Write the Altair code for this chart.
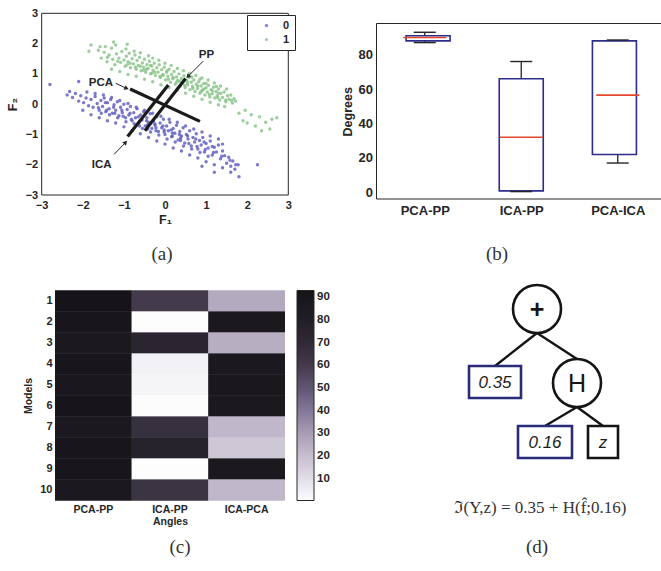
import json
import math

import altair as alt
import numpy as np
import pandas as pd

W, H = 661, 571

# ---------------- (a) two-class feature scatter ----------------
class0_pts = [
    (-2.32, 0.42), (-2.25, 0.22), (-2.18, 0.35), (-2.10, 0.10), (-2.05, 0.28), (-1.98, 0.05), (-1.92, 0.20),
    (-1.86, -0.05), (-1.80, 0.15), (-1.75, -0.10), (-1.70, 0.25), (-1.65, 0.02), (-1.60, -0.20), (-1.56, 0.12),
    (-1.52, -0.08), (-1.48, 0.20), (-1.44, -0.25), (-1.40, 0.05), (-1.36, -0.15), (-1.32, 0.15), (-1.28, -0.30),
    (-1.24, -0.02), (-1.20, -0.20), (-1.16, 0.08), (-1.12, -0.38), (-1.08, -0.10), (-1.04, -0.28), (-1.00, 0.00),
    (-0.96, -0.45), (-0.92, -0.18), (-0.88, -0.36), (-0.84, -0.08), (-0.80, -0.55), (-0.76, -0.28), (-0.72, -0.45),
    (-0.68, -0.15), (-0.64, -0.62), (-0.60, -0.36), (-0.56, -0.52), (-0.52, -0.25), (-0.48, -0.72), (-0.44, -0.45),
    (-0.40, -0.60), (-0.36, -0.32), (-0.32, -0.80), (-0.28, -0.55), (-0.24, -0.70), (-0.20, -0.42), (-0.16, -0.90),
    (-0.12, -0.62), (-0.08, -0.78), (-0.04, -0.50), (0.00, -1.00), (0.04, -0.72), (0.08, -0.88), (0.12, -0.60),
    (0.16, -1.08), (0.20, -0.80), (0.24, -0.96), (0.28, -0.70), (0.32, -1.18), (0.36, -0.90), (0.40, -1.05),
    (0.44, -0.78), (0.48, -1.28), (0.52, -1.00), (0.56, -1.15), (0.60, -0.88), (0.64, -1.38), (0.68, -1.10),
    (0.72, -1.25), (0.76, -0.98), (0.80, -1.48), (0.84, -1.20), (0.88, -1.35), (0.92, -1.10), (0.96, -1.58),
    (1.00, -1.30), (1.05, -1.45), (1.10, -1.22), (1.15, -1.68), (1.20, -1.42), (1.25, -1.58), (1.30, -1.35),
    (1.35, -1.80), (1.40, -1.55), (1.45, -1.70), (1.50, -1.95), (1.55, -1.75), (1.60, -2.05), (1.65, -1.88),
    (1.70, -2.15), (1.78, -2.00),
    (-2.00, -0.20), (-1.80, -0.35), (-1.60, -0.45), (-1.40, -0.55), (-1.20, -0.62), (-1.00, -0.75), (-0.80, -0.88),
    (-0.60, -0.98), (-0.40, -1.10), (-0.20, -1.22), (0.00, -1.32), (0.20, -1.45), (0.40, -1.55), (0.60, -1.68),
    (0.80, -1.78), (1.00, -1.90), (1.20, -2.00), (1.40, -2.10),
    (-1.90, 0.40), (-1.70, 0.35), (-1.50, 0.30), (-1.30, 0.22), (-1.10, 0.12), (-0.90, 0.02), (-0.70, -0.10),
    (-0.50, -0.20), (-0.30, -0.30), (-0.10, -0.40), (0.10, -0.50), (0.30, -0.60), (0.50, -0.72), (0.70, -0.82),
    (0.90, -0.92), (1.10, -1.05), (1.30, -1.15),
    (-1.55, -0.30), (-1.35, -0.35), (-1.15, -0.45), (-0.95, -0.58), (-0.75, -0.65), (-0.55, -0.80), (-0.35, -0.92),
    (-0.15, -1.02), (0.05, -1.15), (0.25, -1.25), (0.45, -1.38), (0.65, -1.48), (0.85, -1.60), (1.05, -1.72),
    (-0.62, -0.72), (-0.42, -0.82), (-0.22, -0.88), (-0.02, -0.85), (0.18, -0.95), (0.38, -1.12),
    (-1.45, 0.05), (-1.25, -0.10), (-1.05, -0.20), (-0.85, -0.30), (-0.65, -0.42), (-0.45, -0.55), (-0.25, -0.65),
    (-0.05, -0.72), (0.15, -0.85), (0.35, -1.00), (0.55, -1.05), (0.75, -1.15), (0.95, -1.25), (1.15, -1.40),
    (-1.62, -0.12), (-1.42, -0.20), (-1.22, -0.30), (-1.02, -0.40), (-0.82, -0.50), (-0.62, -0.58), (-0.42, -0.68),
    (-0.22, -0.78), (-0.02, -0.92), (0.18, -1.05), (0.38, -1.20), (0.58, -1.30), (0.78, -1.40), (0.98, -1.50),
    (1.18, -1.60), (1.38, -1.72), (1.58, -1.85),
    (-2.80, 0.65), (-2.10, 0.75), (-2.38, 0.30), (1.40, -1.32), (1.72, -2.00), (1.80, -2.40), (2.25, -2.00),
    (1.60, -2.25), (1.20, -2.25), (0.90, -2.05),
]
class1_pts = [
    (-1.62, 1.78), (-1.55, 1.52), (-1.48, 1.71), (-1.41, 1.40), (-1.36, 1.62), (-1.30, 1.85), (-1.27, 1.48),
    (-1.22, 1.30), (-1.18, 1.66), (-1.12, 1.52), (-1.08, 1.38), (-1.05, 1.74), (-1.00, 1.46), (-0.97, 1.25),
    (-0.94, 1.58), (-0.90, 1.40), (-0.87, 1.68), (-0.84, 1.20), (-0.80, 1.50), (-0.77, 1.33), (-0.73, 1.62),
    (-0.70, 1.15), (-0.68, 1.44), (-0.65, 1.28), (-0.62, 1.55), (-0.58, 1.10), (-0.55, 1.36), (-0.52, 1.22),
    (-0.50, 1.48), (-0.47, 1.05), (-0.44, 1.30), (-0.41, 1.18), (-0.38, 1.42), (-0.35, 1.00), (-0.32, 1.26),
    (-0.29, 1.12), (-0.26, 1.35), (-0.23, 0.95), (-0.20, 1.20), (-0.17, 1.05), (-0.14, 1.30), (-0.11, 0.88),
    (-0.08, 1.14), (-0.05, 0.98), (-0.02, 1.22), (0.01, 0.80), (0.04, 1.05), (0.07, 0.92), (0.10, 1.15),
    (0.13, 0.72), (0.16, 0.98), (0.19, 0.84), (0.22, 1.08), (0.25, 0.66), (0.28, 0.90), (0.31, 0.78),
    (0.34, 1.00), (0.37, 0.60), (0.40, 0.85), (0.43, 0.70), (0.46, 0.94), (0.49, 0.55), (0.52, 0.78),
    (0.55, 0.64), (0.58, 0.88), (0.61, 0.48), (0.64, 0.72), (0.67, 0.58), (0.70, 0.80), (0.73, 0.42),
    (0.76, 0.66), (0.79, 0.52), (0.82, 0.74), (0.85, 0.36), (0.88, 0.60), (0.91, 0.46), (0.94, 0.68),
    (0.97, 0.30), (1.00, 0.54), (1.03, 0.40), (1.06, 0.62), (1.09, 0.24), (1.12, 0.48), (1.15, 0.34),
    (1.18, 0.56), (1.21, 0.20), (1.24, 0.42), (1.27, 0.28), (1.30, 0.50), (1.33, 0.14), (1.36, 0.36),
    (1.40, 0.22), (1.44, 0.40), (1.48, 0.08), (1.52, 0.28), (1.56, 0.16), (1.60, 0.30), (1.64, 0.04),
    (1.68, 0.18), (1.72, 0.10),
    (-1.45, 1.90), (-1.20, 1.95), (-0.95, 1.82), (-0.75, 1.75), (-0.60, 1.70), (-0.40, 1.60), (-0.30, 1.52),
    (-0.15, 1.45), (0.00, 1.35), (0.15, 1.28), (0.30, 1.18), (0.45, 1.10), (0.60, 1.02), (0.75, 0.95),
    (0.90, 0.86), (1.05, 0.80), (1.20, 0.70), (1.35, 0.60), (1.50, 0.50),
    (-1.30, 1.15), (-1.10, 1.08), (-0.90, 0.98), (-0.70, 0.92), (-0.50, 0.82), (-0.30, 0.74), (-0.10, 0.64),
    (0.10, 0.55), (0.30, 0.46), (0.50, 0.36), (0.70, 0.26), (0.90, 0.16), (1.10, 0.06), (1.30, -0.02),
    (1.45, -0.08),
    (-0.85, 1.35), (-0.60, 1.25), (-0.45, 1.15), (-0.25, 1.05), (-0.05, 0.95), (0.20, 0.88), (0.35, 0.76),
    (0.55, 0.72), (0.80, 0.60), (0.95, 0.50), (1.15, 0.44), (1.30, 0.36), (0.05, 1.10), (-0.35, 1.28),
    (0.65, 0.90), (0.85, 0.82), (1.00, 0.68), (1.25, 0.58),
    (-1.40, 1.55), (-1.15, 1.42), (-0.92, 1.30), (-0.72, 1.22), (-0.52, 1.12), (-0.32, 1.02), (-0.12, 0.92),
    (0.08, 0.82), (0.28, 0.72), (0.48, 0.62), (0.68, 0.52), (0.88, 0.42), (1.08, 0.32), (1.28, 0.22),
    (1.48, 0.14), (1.62, 0.12),
    (-1.80, 1.95), (-1.85, 1.75), (-1.58, 1.90), (-1.25, 2.05), (-0.92, 1.98), (1.80, -0.30), (1.90, -0.55),
    (2.00, -0.62), (2.10, -0.35), (2.20, -0.72), (2.30, -0.42), (2.45, -0.60), (2.55, -0.82), (2.72, -0.45),
    (2.35, -0.88), (1.95, -0.20), (2.60, -0.50),
]

# projection directions drawn through the data
dir_names = ["PCA", "ICA", "PP"]
dir_start_x = [-0.85, -0.91, -0.49]
dir_start_y = [0.50, -1.07, -0.88]
dir_end_x = [0.85, 0.08, 0.50]
dir_end_y = [-0.57, 0.63, 0.85]

# pointer labels
tag_names = ["PCA", "PP", "ICA"]
tag_x = [-1.56, 1.01, -1.54]
tag_y = [0.70, 1.62, -2.02]
arrow_from_x = [-1.20, 0.93, -1.24]
arrow_from_y = [0.69, 1.42, -1.66]
arrow_to_x = [-0.95, 0.57, -0.97]
arrow_to_y = [0.53, 0.93, -1.28]

# ---------------- (b)/(c) angles between directions ----------------
pairs = ["PCA-PP", "ICA-PP", "ICA-PCA"]
box_names = ["PCA-PP", "ICA-PP", "PCA-ICA"]
models = list(range(1, 11))
angle_pca_pp = [93, 90, 88, 91, 89, 92, 87, 90, 91, 88]
angle_ica_pp = [60, 0.4, 74, 4, 3, 0.8, 66, 76, 0.5, 64]
angle_ica_pca = [26, 88, 25, 87, 88.5, 88, 22, 17, 88, 22]

# ---------------- (d) expression tree ----------------
op_names = ["+", "H"]
op_x = [87, 127]
op_y = [19, 93]
leaf_names = ["0.35", "0.16", "z"]
leaf_kind = ["const", "const", "var"]
leaf_x0 = [19, 68, 138]
leaf_x1 = [71, 122, 168]
leaf_y0 = [76, 136, 136]
leaf_y1 = [108, 168, 168]
edge_parent = ["+", "+", "H", "H"]
edge_child = ["0.35", "H", "0.16", "z"]

# ---------------- panel placement (pixels) ----------------
A_X, A_Y = [41.7, 288.3], [195.0, 13.3]
B_X, B_Y = [376.5, 666.0], [199.0, 23.5]
C_X, C_Y = [55.0, 285.0], [290.5, 500.5]
D_X, D_Y = [450.0, 650.0], [290.0, 470.0]

SANS = "Liberation Sans"
SERIF = "Liberation Serif"
INK = "#262626"
BLUE = "#5959bf"
GREEN = "#84c284"


def lin(domain, rng):
    return alt.Scale(domain=domain, range=rng, nice=False, zero=False)


def axis(orient, offset, **kw):
    base = dict(orient=orient, offset=offset, grid=False, ticks=False, domain=False,
                labelFont=SANS, labelColor=INK, labelFontWeight="bold",
                titleFont=SANS, titleColor=INK, titleFontWeight="bold", labelFlush=False)
    base.update(kw)
    return alt.Axis(**base)


# ===== panel (a) =====
sa_x = lin([-3, 3], A_X)
sa_y = lin([-3, 3], A_Y)

frame_a = pd.DataFrame({"x0": [-3], "x1": [3], "y0": [-3], "y1": [3]})
scatter_df = pd.DataFrame(
    [{"f1": x, "f2": y, "cls": "0"} for x, y in class0_pts]
    + [{"f1": x, "f2": y, "cls": "1"} for x, y in class1_pts]
)
dir_df = pd.DataFrame({"name": dir_names, "x": dir_start_x, "y": dir_start_y,
                       "x2": dir_end_x, "y2": dir_end_y})
kx = (A_X[1] - A_X[0]) / 6.0
ky = (A_Y[0] - A_Y[1]) / 6.0
arrow_df = pd.DataFrame({"name": tag_names, "tx": tag_x, "ty": tag_y,
                         "x": arrow_from_x, "y": arrow_from_y,
                         "x2": arrow_to_x, "y2": arrow_to_y})
arrow_df["ang"] = [
    math.degrees(math.atan2((x2 - x1) * kx, (y2 - y1) * ky)) % 360
    for x1, y1, x2, y2 in zip(arrow_from_x, arrow_from_y, arrow_to_x, arrow_to_y)
]

a_frame = alt.Chart(frame_a).mark_rect(fillOpacity=0, stroke=INK, strokeWidth=1).encode(
    x=alt.X("x0:Q", scale=sa_x,
            axis=axis("bottom", A_Y[0] - H, values=[-3, -2, -1, 0, 1, 2, 3], title="F₁",
                      labelFontSize=11, labelPadding=4, titleFontSize=12.5, titlePadding=3)),
    x2="x1:Q",
    y=alt.Y("y0:Q", scale=sa_y,
            axis=axis("left", -A_X[0], values=[-3, -2, -1, 0, 1, 2, 3], title="F₂",
                      labelFontSize=11, labelPadding=4, titleFontSize=12.5, titlePadding=6)),
    y2="y1:Q",
)
a_points = alt.Chart(scatter_df).mark_circle(size=12, opacity=0.8).encode(
    x=alt.X("f1:Q", scale=sa_x, axis=None),
    y=alt.Y("f2:Q", scale=sa_y, axis=None),
    color=alt.Color("cls:N", scale=alt.Scale(domain=["0", "1"], range=[BLUE, GREEN]),
                    legend=alt.Legend(orient="none", legendX=247, legendY=15, title=None,
                                      strokeColor=INK, fillColor="white", padding=5,
                                      symbolType="circle", symbolSize=10, symbolOffset=9,
                                      labelOffset=11, labelFont=SANS, labelFontSize=11,
                                      labelFontWeight="bold", labelColor=INK, rowPadding=2,
                                      cornerRadius=0)),
)
a_dirs = alt.Chart(dir_df).mark_rule(strokeWidth=3.2, color="#1b1b1b").encode(
    x=alt.X("x:Q", scale=sa_x, axis=None), y=alt.Y("y:Q", scale=sa_y, axis=None),
    x2="x2:Q", y2="y2:Q",
)
a_arrows = alt.Chart(arrow_df).mark_rule(strokeWidth=1, color=INK).encode(
    x=alt.X("x:Q", scale=sa_x, axis=None), y=alt.Y("y:Q", scale=sa_y, axis=None),
    x2="x2:Q", y2="y2:Q",
)
a_heads = alt.Chart(arrow_df).mark_point(shape="triangle", filled=True, size=26, opacity=1,
                                         color=INK).encode(
    x=alt.X("x2:Q", scale=sa_x, axis=None), y=alt.Y("y2:Q", scale=sa_y, axis=None),
    angle=alt.Angle("ang:Q", scale=None),
)
a_tags = alt.Chart(arrow_df).mark_text(font=SANS, fontSize=11.5, fontWeight="bold",
                                       color=INK).encode(
    x=alt.X("tx:Q", scale=sa_x, axis=None), y=alt.Y("ty:Q", scale=sa_y, axis=None),
    text="name:N",
)
layers_a = [a_frame, a_points, a_dirs, a_arrows, a_heads, a_tags]


# ===== panel (b) =====
def box_stats(values):
    v = np.asarray(values, dtype=float)
    q1, med, q3 = np.percentile(v, [25, 50, 75], method="hazen")
    iqr = q3 - q1
    lo = v[v >= q1 - 1.5 * iqr].min()
    hi = v[v <= q3 + 1.5 * iqr].max()
    return q1, med, q3, lo, hi


box_rows = []
for i, vals in enumerate([angle_pca_pp, angle_ica_pp, angle_ica_pca]):
    q1, med, q3, lo, hi = box_stats(vals)
    box_rows.append({"pos": i + 1, "q1": q1, "med": med, "q3": q3, "lo": lo, "hi": hi})
box_df = pd.DataFrame(box_rows)
cap_df = pd.concat([box_df[["pos", "lo"]].rename(columns={"lo": "v"}),
                    box_df[["pos", "hi"]].rename(columns={"hi": "v"})])

sb_x = lin([0.5, 3.5], B_X)
sb_y = lin([-3.9, 98.1], B_Y)
frame_b = pd.DataFrame({"x0": [0.5], "x1": [3.5], "y0": [-3.9], "y1": [98.1]})
label_expr = json.dumps(box_names) + "[datum.value - 1]"

b_frame = alt.Chart(frame_b).mark_rect(fillOpacity=0, stroke=INK, strokeWidth=1).encode(
    x=alt.X("x0:Q", scale=sb_x,
            axis=axis("bottom", B_Y[0] - H, values=[1, 2, 3], labelExpr=label_expr, title=None,
                      labelFontSize=13, labelPadding=5)),
    x2="x1:Q",
    y=alt.Y("y0:Q", scale=sb_y,
            axis=axis("left", -B_X[0], values=[0, 20, 40, 60, 80], title="Degrees",
                      labelFontSize=13, labelPadding=4, titleFontSize=12.5, titlePadding=4)),
    y2="y1:Q",
)
b_whisk = alt.Chart(box_df).mark_rule(strokeWidth=1.3, color=INK).encode(
    x=alt.X("pos:Q", scale=sb_x, axis=None), y=alt.Y("lo:Q", scale=sb_y, axis=None), y2="hi:Q",
)
b_box = alt.Chart(box_df).mark_bar(size=44, orient="vertical", fill="white", stroke="#2d2d8c",
                                   strokeWidth=1.6).encode(
    x=alt.X("pos:Q", scale=sb_x, axis=None), y=alt.Y("q1:Q", scale=sb_y, axis=None), y2="q3:Q",
)
b_med = alt.Chart(box_df).mark_tick(orient="horizontal", size=43, thickness=1.6,
                                    color="#e4472c", opacity=1).encode(
    x=alt.X("pos:Q", scale=sb_x, axis=None), y=alt.Y("med:Q", scale=sb_y, axis=None),
)
b_caps = alt.Chart(cap_df).mark_tick(orient="horizontal", size=22, thickness=1.4,
                                     color=INK, opacity=1).encode(
    x=alt.X("pos:Q", scale=sb_x, axis=None), y=alt.Y("v:Q", scale=sb_y, axis=None),
)
layers_b = [b_frame, b_whisk, b_box, b_med, b_caps]

# ===== panel (c) =====
heat_df = pd.DataFrame(
    [{"pair": p, "model": m, "angle": a}
     for p, vals in zip(pairs, [angle_pca_pp, angle_ica_pp, angle_ica_pca])
     for m, a in zip(models, vals)]
)
all_angles = angle_pca_pp + angle_ica_pp + angle_ica_pca
amin, amax = min(all_angles), max(all_angles)
gray_domain = [amin, 10, 20, 30, 40, 50, 60, 70, 80, amax]
gray_range = ["#fdfdfe", "#e2dee8", "#c6bfcf", "#a89db5", "#83789a", "#5f5672",
              "#433a4c", "#302a36", "#221e27", "#161418"]
colorbar = alt.Legend(orient="none", legendX=297, legendY=C_Y[0], title=None,
                      direction="vertical", gradientLength=C_Y[1] - C_Y[0],
                      gradientThickness=17, gradientStrokeColor=INK,
                      gradientStrokeWidth=1, values=[10, 20, 30, 40, 50, 60, 70, 80, 90],
                      labelFont=SANS, labelFontSize=11.5, labelFontWeight="bold",
                      labelColor=INK, labelOffset=3, labelOverlap=False, padding=0)


def heat_layer(with_axes):
    x_axis = axis("bottom", C_Y[1] - H, title="Angles", labelAngle=0, labelFontSize=10.5,
                  labelPadding=4, titleFontSize=10.5, titlePadding=1) if with_axes else None
    y_axis = axis("left", -C_X[0], title="Models", labelAngle=0, labelFontSize=11,
                  labelPadding=3, titleFontSize=10.5, titlePadding=6) if with_axes else None
    return alt.Chart(heat_df).mark_rect().encode(
        x=alt.X("pair:N", sort=pairs,
                scale=alt.Scale(domain=pairs, range=C_X, paddingInner=0, paddingOuter=0),
                axis=x_axis),
        y=alt.Y("model:O", sort=models,
                scale=alt.Scale(domain=models, range=C_Y, paddingInner=0, paddingOuter=0),
                axis=y_axis),
        color=alt.Color("angle:Q", scale=alt.Scale(domain=gray_domain, range=gray_range),
                        legend=colorbar if with_axes else None),
    )


# the cells are painted twice so that neighbouring rows meet without a hairline seam
layers_c = [heat_layer(True), heat_layer(False)]

# ===== panel (d) =====
R = 24
sd_x = lin([0, 200], D_X)
sd_y = lin([0, 180], D_Y)
ops_df = pd.DataFrame({"name": op_names, "x": op_x, "y": op_y})
leaf_df = pd.DataFrame({"name": leaf_names, "kind": leaf_kind, "x0": leaf_x0, "x1": leaf_x1,
                        "y0": leaf_y0, "y1": leaf_y1})
leaf_df["xc"] = (leaf_df["x0"] + leaf_df["x1"]) / 2
leaf_df["yc"] = (leaf_df["y0"] + leaf_df["y1"]) / 2

anchor_bottom = {n: (x, y + R) for n, x, y in zip(op_names, op_x, op_y)}
anchor_top = {n: (x, y - R) for n, x, y in zip(op_names, op_x, op_y)}
anchor_top.update({n: ((a + b) / 2, t) for n, a, b, t in zip(leaf_names, leaf_x0, leaf_x1, leaf_y0)})
edge_df = pd.DataFrame({
    "x": [anchor_bottom[p][0] for p in edge_parent],
    "y": [anchor_bottom[p][1] for p in edge_parent],
    "x2": [anchor_top[c][0] for c in edge_child],
    "y2": [anchor_top[c][1] for c in edge_child],
})

d_edges = alt.Chart(edge_df).mark_rule(strokeWidth=2.4, color="#151515").encode(
    x=alt.X("x:Q", scale=sd_x, axis=None), y=alt.Y("y:Q", scale=sd_y, axis=None),
    x2="x2:Q", y2="y2:Q",
)
d_ops = alt.Chart(ops_df).mark_point(shape="circle", filled=True, fill="white", stroke="#151515",
                                     strokeWidth=2.6, size=(2 * R) ** 2, opacity=1).encode(
    x=alt.X("x:Q", scale=sd_x, axis=None), y=alt.Y("y:Q", scale=sd_y, axis=None),
)


def op_text(name, weight):
    return alt.Chart(ops_df).transform_filter(alt.datum.name == name).mark_text(
        font=SANS, fontSize=25, fontWeight=weight, color="#151515", baseline="middle", dy=1,
    ).encode(
        x=alt.X("x:Q", scale=sd_x, axis=None), y=alt.Y("y:Q", scale=sd_y, axis=None),
        text="name:N",
    )


d_leaves = alt.Chart(leaf_df).mark_rect(fill="white", strokeWidth=2.6).encode(
    x=alt.X("x0:Q", scale=sd_x, axis=None), x2="x1:Q",
    y=alt.Y("y0:Q", scale=sd_y, axis=None), y2="y1:Q",
    stroke=alt.Stroke("kind:N", scale=alt.Scale(domain=["const", "var"],
                                                range=["#2b2b78", "#151515"]), legend=None),
)
d_leaf_text = alt.Chart(leaf_df).mark_text(font=SANS, fontSize=17, fontStyle="italic",
                                           color="#1e1e1e", baseline="middle", dy=1).encode(
    x=alt.X("xc:Q", scale=sd_x, axis=None), y=alt.Y("yc:Q", scale=sd_y, axis=None),
    text="name:N",
)
layers_d = [d_edges, d_ops, op_text("+", "bold"), op_text("H", "normal"), d_leaves, d_leaf_text]

# ===== captions and formula =====
one = alt.Data(values=[{}])


def caption(txt, x, y, size=19):
    return alt.Chart(one).mark_text(text=txt, font=SERIF, fontSize=size, color="#333333",
                                    baseline="middle").encode(x=alt.value(x), y=alt.value(y))


texts = [
    caption("(a)", 162, 254), caption("(b)", 497, 254),
    caption("(c)", 180, 547), caption("(d)", 537, 547),
    caption("ℑ(Y,z) = 0.35 + H(f̂;0.16)", 540, 508, size=17),
]

chart = alt.layer(
    *(layers_a + layers_b + layers_c + layers_d + texts)
).resolve_scale(
    x="independent", y="independent", color="independent", stroke="independent",
).properties(
    width=W, height=H, padding=0, background="white",
    autosize=alt.AutoSizeParams(type="none"),
).configure_view(stroke=None)

chart.save("out.html", embed_options={"renderer": "svg", "actions": False})
